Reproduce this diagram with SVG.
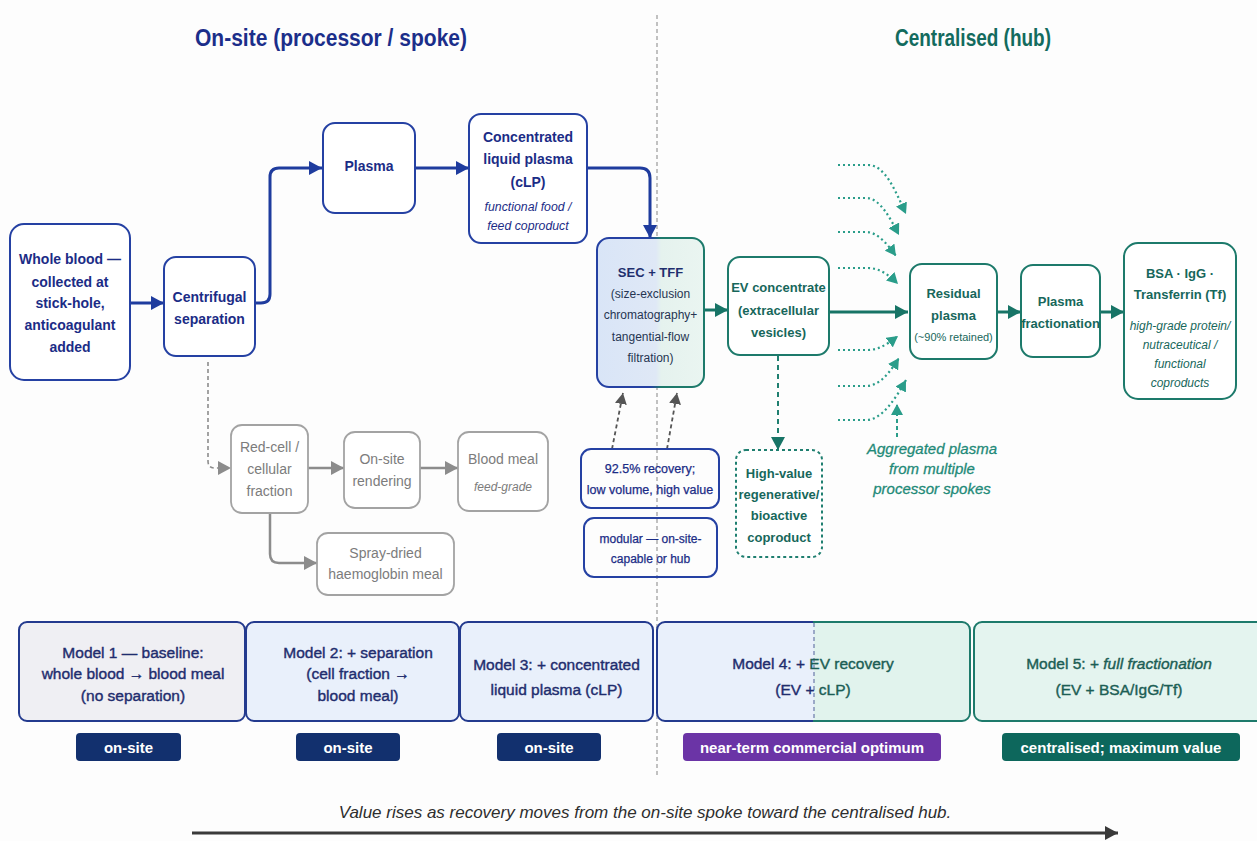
<svg xmlns="http://www.w3.org/2000/svg" width="1257" height="841" viewBox="0 0 1257 841">
<defs>
<style>
text{font-family:"Liberation Sans",Arial,sans-serif;}
.t{text-anchor:middle;dominant-baseline:central;}
.nb{fill:#1b2c86;font-weight:bold;font-size:14px;}
.nbi{fill:#1b2c86;font-style:italic;font-size:12.3px;}
.tb{fill:#17675b;font-weight:bold;font-size:13px;}
.ti{fill:#17675b;font-style:italic;font-size:12px;}
.gr{fill:#7c7c7c;font-size:14px;}
.bx-b{fill:#fff;stroke:#2541a3;stroke-width:2;}
.bx-t{fill:#fff;stroke:#1d7a6b;stroke-width:2;}
.bx-g{fill:#fff;stroke:#a3a3a3;stroke-width:1.8;}
.c-b{fill:none;stroke:#1f3c9e;stroke-width:3;marker-end:url(#mb);}
.c-t{fill:none;stroke:#177466;stroke-width:3;marker-end:url(#mt);}
.c-g{fill:none;stroke:#8c8c8c;stroke-width:2.5;marker-end:url(#mg);}
.c-dot{fill:none;stroke:#2a9d8a;stroke-width:2.2;stroke-dasharray:2 3;marker-end:url(#ml);}
.mod{font-size:15.5px;fill:#1f2d6e;stroke:#1f2d6e;stroke-width:0.4;}
.mod5{fill:#1c5e55;stroke:#1c5e55;}
.badge{font-size:15px;font-weight:bold;fill:#fff;}
</style>
<marker id="mb" markerUnits="userSpaceOnUse" markerWidth="14" markerHeight="14" refX="13" refY="7" orient="auto"><path d="M0,0 L13,7 L0,14 z" fill="#1f3c9e"/></marker>
<marker id="mt" markerUnits="userSpaceOnUse" markerWidth="14" markerHeight="14" refX="13" refY="7" orient="auto"><path d="M0,0 L13,7 L0,14 z" fill="#177466"/></marker>
<marker id="mg" markerUnits="userSpaceOnUse" markerWidth="14" markerHeight="14" refX="13" refY="7" orient="auto"><path d="M0,0 L13,7 L0,14 z" fill="#8c8c8c"/></marker>
<marker id="md" markerUnits="userSpaceOnUse" markerWidth="12" markerHeight="12" refX="11" refY="6" orient="auto"><path d="M0,0 L11,6 L0,12 z" fill="#555"/></marker>
<marker id="ml" markerUnits="userSpaceOnUse" markerWidth="12" markerHeight="12" refX="11" refY="6" orient="auto"><path d="M0,0 L11,6 L0,12 z" fill="#2a9d8a"/></marker>
<marker id="mk" markerUnits="userSpaceOnUse" markerWidth="14" markerHeight="14" refX="13" refY="7" orient="auto"><path d="M0,0 L13,7 L0,14 z" fill="#3a3a3a"/></marker>
<linearGradient id="secFill" gradientUnits="userSpaceOnUse" x1="597" y1="0" x2="704" y2="0">
<stop offset="0" stop-color="#d9e5f7"/><stop offset="0.55" stop-color="#dfe8f6"/><stop offset="0.6" stop-color="#e5f2ee"/><stop offset="1" stop-color="#eaf5f1"/>
</linearGradient>
<linearGradient id="secStroke" gradientUnits="userSpaceOnUse" x1="597" y1="0" x2="704" y2="0">
<stop offset="0" stop-color="#2541a3"/><stop offset="0.5" stop-color="#2541a3"/><stop offset="0.6" stop-color="#1d7a6b"/><stop offset="1" stop-color="#1d7a6b"/>
</linearGradient>
<linearGradient id="m4Fill" gradientUnits="userSpaceOnUse" x1="657" y1="0" x2="970" y2="0">
<stop offset="0" stop-color="#e9f0fb"/><stop offset="0.502" stop-color="#e9f0fb"/><stop offset="0.502" stop-color="#e1f3ed"/><stop offset="1" stop-color="#e1f3ed"/>
</linearGradient>
<linearGradient id="m4Stroke" gradientUnits="userSpaceOnUse" x1="657" y1="0" x2="970" y2="0">
<stop offset="0" stop-color="#233a8e"/><stop offset="0.5" stop-color="#233a8e"/><stop offset="0.5" stop-color="#1d7a6b"/><stop offset="1" stop-color="#1d7a6b"/>
</linearGradient>
</defs>
<rect width="1257" height="841" fill="#fdfdfd"/>

<!-- titles -->
<text class="t" x="331" y="38" font-size="23" font-weight="bold" fill="#1b2e8a" textLength="272" lengthAdjust="spacingAndGlyphs">On-site (processor / spoke)</text>
<text class="t" x="973" y="38" font-size="23" font-weight="bold" fill="#136b5e" textLength="156" lengthAdjust="spacingAndGlyphs">Centralised (hub)</text>

<!-- divider -->
<line x1="657" y1="15" x2="657" y2="775" stroke="#9a9a9a" stroke-width="1.2" stroke-dasharray="4 3"/>

<g id="connectors">
<path class="c-b" d="M130,303 H164"/>
<path class="c-b" d="M255,303 H261 Q270,303 270,294 V177 Q270,168 279,168 H322"/>
<path class="c-b" d="M415,168 H469"/>
<path class="c-b" d="M587,168 H640 Q650,168 650,178 V238"/>
<path class="c-t" d="M704,310 H728"/>
<path class="c-t" d="M829,312 H908"/>
<path class="c-t" d="M997,312 H1021"/>
<path class="c-t" d="M1100,312 H1124"/>
<path d="M778,356 V450" fill="none" stroke="#1f7f70" stroke-width="2" stroke-dasharray="5 4" marker-end="url(#mt)"/>
<path d="M208,362 V461 Q208,468 215,468 H231" fill="none" stroke="#8c8c8c" stroke-width="1.6" stroke-dasharray="4 3" marker-end="url(#mg)"/>
<path class="c-g" d="M308,468 H344"/>
<path class="c-g" d="M420,468 H458"/>
<path class="c-g" d="M270,513 V554 Q270,563 279,563 H317"/>
<path d="M612,449 L623,393" fill="none" stroke="#555" stroke-width="1.8" stroke-dasharray="4 3" marker-end="url(#md)"/>
<path d="M667,449 L677,393" fill="none" stroke="#555" stroke-width="1.8" stroke-dasharray="4 3" marker-end="url(#md)"/>
<path class="c-dot" d="M838,165 H868 C885,165 895,190 906,214"/>
<path class="c-dot" d="M838,198 H866 C880,198 890,218 899,235"/>
<path class="c-dot" d="M838,232 H866 C878,232 888,245 896,256"/>
<path class="c-dot" d="M838,268 H868 C880,268 890,276 898,284"/>
<path class="c-dot" d="M838,350 H868 C880,350 890,342 898,336"/>
<path class="c-dot" d="M838,386 H866 C880,386 890,372 899,358"/>
<path class="c-dot" d="M838,420 H866 C882,420 896,398 906,380"/>
<path d="M897,437 V404" fill="none" stroke="#2a9d8a" stroke-width="2" stroke-dasharray="4 3" marker-end="url(#ml)"/>
<path d="M192,833 H1118" fill="none" stroke="#3a3a3a" stroke-width="3" marker-end="url(#mk)"/>
</g>

<g id="whole-blood">
<rect class="bx-b" x="10" y="224" width="120" height="156" rx="14"/>
<text class="t nb" x="70"><tspan x="70" y="259">Whole blood —</tspan><tspan x="70" y="282">collected at</tspan><tspan x="70" y="303">stick-hole,</tspan><tspan x="70" y="325">anticoagulant</tspan><tspan x="70" y="347">added</tspan></text>
</g>
<g id="centrifugal">
<rect class="bx-b" x="164" y="257" width="91" height="99" rx="12"/>
<text class="t nb"><tspan x="209.5" y="297">Centrifugal</tspan><tspan x="209.5" y="319">separation</tspan></text>
</g>
<g id="plasma">
<rect class="bx-b" x="323" y="123" width="92" height="90" rx="12"/>
<text class="t nb" x="369" y="166">Plasma</text>
</g>
<g id="clp">
<rect class="bx-b" x="469" y="114" width="118" height="129" rx="12"/>
<text class="t nb"><tspan x="528" y="137">Concentrated</tspan><tspan x="528" y="159">liquid plasma</tspan><tspan x="528" y="182">(cLP)</tspan></text>
<text class="t nbi"><tspan x="528" y="207">functional food /</tspan><tspan x="528" y="226">feed coproduct</tspan></text>
</g>
<g id="sec-tff">
<rect x="597" y="238" width="107" height="149" rx="12" fill="url(#secFill)" stroke="url(#secStroke)" stroke-width="2"/>
<text class="t" x="650.5" y="272" font-size="13" font-weight="bold" fill="#1f2f6e">SEC + TFF</text>
<text class="t" font-size="12" fill="#263552"><tspan x="650.5" y="294">(size-exclusion</tspan><tspan x="650.5" y="315">chromatography+</tspan><tspan x="650.5" y="337">tangential-flow</tspan><tspan x="650.5" y="358">filtration)</tspan></text>
</g>
<g id="ev-concentrate">
<rect class="bx-t" x="728" y="257" width="101" height="98" rx="12"/>
<text class="t tb"><tspan x="778.5" y="287">EV concentrate</tspan><tspan x="778.5" y="310">(extracellular</tspan><tspan x="778.5" y="332">vesicles)</tspan></text>
</g>
<g id="residual-plasma">
<rect class="bx-t" x="910" y="264" width="87" height="95" rx="12"/>
<text class="t tb"><tspan x="953.5" y="293">Residual</tspan><tspan x="953.5" y="315">plasma</tspan></text>
<text class="t" x="953.5" y="337" font-size="11" fill="#17675b">(~90% retained)</text>
</g>
<g id="plasma-fractionation">
<rect class="bx-t" x="1021" y="265" width="79" height="92" rx="12"/>
<text class="t tb" font-size="12.5"><tspan x="1060.5" y="301">Plasma</tspan><tspan x="1060.5" y="323">fractionation</tspan></text>
</g>
<g id="bsa-igg-tf">
<rect class="bx-t" x="1124" y="243" width="112" height="156" rx="14"/>
<text class="t tb"><tspan x="1180" y="273">BSA · IgG ·</tspan><tspan x="1180" y="294">Transferrin (Tf)</tspan></text>
<text class="t ti"><tspan x="1180" y="326">high-grade protein/</tspan><tspan x="1180" y="345">nutraceutical /</tspan><tspan x="1180" y="364">functional</tspan><tspan x="1180" y="383">coproducts</tspan></text>
</g>
<g id="high-value">
<rect x="736" y="450" width="86" height="107" rx="10" fill="#fff" stroke="#1f7f70" stroke-width="2" stroke-dasharray="3 3"/>
<text class="t tb"><tspan x="779" y="473">High-value</tspan><tspan x="779" y="494">regenerative/</tspan><tspan x="779" y="515">bioactive</tspan><tspan x="779" y="537">coproduct</tspan></text>
</g>
<g id="aggregated-label">
<text class="t" font-size="15" font-style="italic" fill="#1f8a78" stroke="#1f8a78" stroke-width="0.3"><tspan x="932" y="448">Aggregated plasma</tspan><tspan x="932" y="468">from multiple</tspan><tspan x="932" y="488">processor spokes</tspan></text>
</g>
<g id="recovery-note">
<rect x="581" y="449" width="138" height="59" rx="10" fill="none" stroke="#2541a3" stroke-width="2"/>
<text class="t" font-size="12.5" fill="#1b2c86" stroke="#1b2c86" stroke-width="0.25"><tspan x="650" y="469">92.5% recovery;</tspan><tspan x="650" y="490">low volume, high value</tspan></text>
</g>
<g id="modular-note">
<rect x="584" y="518" width="133" height="59" rx="10" fill="none" stroke="#2541a3" stroke-width="2"/>
<text class="t" font-size="12" fill="#1b2c86" stroke="#1b2c86" stroke-width="0.25"><tspan x="650.5" y="539">modular — on-site-</tspan><tspan x="650.5" y="559">capable or hub</tspan></text>
</g>
<g id="red-cell">
<rect class="bx-g" x="231" y="425" width="77" height="88" rx="11"/>
<text class="t gr"><tspan x="269.5" y="447">Red-cell /</tspan><tspan x="269.5" y="469">cellular</tspan><tspan x="269.5" y="491">fraction</tspan></text>
</g>
<g id="rendering">
<rect class="bx-g" x="344" y="432" width="76" height="76" rx="11"/>
<text class="t gr"><tspan x="382" y="459">On-site</tspan><tspan x="382" y="481">rendering</tspan></text>
</g>
<g id="blood-meal">
<rect class="bx-g" x="458" y="432" width="90" height="79" rx="11"/>
<text class="t gr" x="503" y="459">Blood meal</text>
<text class="t" x="503" y="487" font-size="12" font-style="italic" fill="#7c7c7c">feed-grade</text>
</g>
<g id="spray-dried">
<rect class="bx-g" x="317" y="533" width="137" height="62" rx="11"/>
<text class="t gr"><tspan x="385.5" y="553">Spray-dried</tspan><tspan x="385.5" y="574">haemoglobin meal</tspan></text>
</g>

<g id="model-1">
<rect x="19" y="622" width="226" height="99" rx="8" fill="#efeff3" stroke="#233a8e" stroke-width="2"/>
<text class="t mod"><tspan x="133" y="652">Model 1 — baseline:</tspan><tspan x="133" y="673">whole blood → blood meal</tspan><tspan x="133" y="695">(no separation)</tspan></text>
<rect x="76" y="733" width="105" height="28" rx="4" fill="#12306e"/>
<text class="t badge" x="128.5" y="747">on-site</text>
</g>
<g id="model-2">
<rect x="246" y="622" width="213" height="99" rx="8" fill="#e9f0fb" stroke="#233a8e" stroke-width="2"/>
<text class="t mod"><tspan x="358" y="652">Model 2: + separation</tspan><tspan x="358" y="673">(cell fraction →</tspan><tspan x="358" y="695">blood meal)</tspan></text>
<rect x="296" y="733" width="104" height="28" rx="4" fill="#12306e"/>
<text class="t badge" x="348" y="747">on-site</text>
</g>
<g id="model-3">
<rect x="460" y="622" width="193" height="99" rx="8" fill="#e9f0fb" stroke="#233a8e" stroke-width="2"/>
<text class="t mod"><tspan x="556.5" y="664">Model 3: + concentrated</tspan><tspan x="556.5" y="689">liquid plasma (cLP)</tspan></text>
<rect x="497" y="733" width="104" height="28" rx="4" fill="#12306e"/>
<text class="t badge" x="549" y="747">on-site</text>
</g>
<g id="model-4">
<rect x="657" y="622" width="313" height="99" rx="8" fill="url(#m4Fill)" stroke="url(#m4Stroke)" stroke-width="2"/>
<line x1="814" y1="623" x2="814" y2="720" stroke="#6a7aa8" stroke-width="1.2" stroke-dasharray="4 3"/>
<text class="t mod" x="813" y="663"><tspan>Model 4: + </tspan><tspan class="mod5">EV recovery</tspan></text>
<text class="t mod" x="813" y="689"><tspan>(EV + </tspan><tspan class="mod5">cLP)</tspan></text>
<rect x="683" y="733" width="258" height="28" rx="4" fill="#6b34a6"/>
<text class="t badge" x="812" y="747" font-size="15.5">near-term commercial optimum</text>
</g>
<g id="model-5">
<rect x="974" y="622" width="290" height="99" rx="8" fill="#e4f4ef" stroke="#1d7a6b" stroke-width="2"/>
<text class="t mod mod5" x="1119" y="663">Model 5: + <tspan font-style="italic">full fractionation</tspan></text>
<text class="t mod mod5" x="1119" y="689">(EV + BSA/IgG/Tf)</text>
<rect x="1002" y="733" width="238" height="28" rx="4" fill="#0d675c"/>
<text class="t badge" x="1121" y="747" font-size="15.5">centralised; maximum value</text>
</g>

<text class="t" x="645" y="812" font-size="17" font-style="italic" fill="#2e2e2e">Value rises as recovery moves from the on-site spoke toward the centralised hub.</text>
</svg>
